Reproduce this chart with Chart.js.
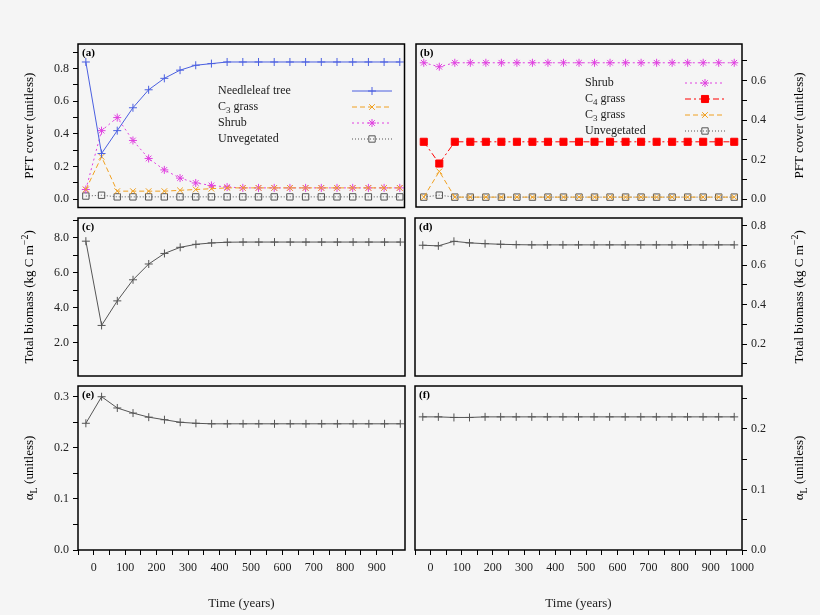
<!DOCTYPE html>
<html><head><meta charset="utf-8">
<script src="https://cdn.jsdelivr.net/npm/chart.js@4"></script>
<style>
body{margin:0;background:#f5f5f5;width:820px;height:615px;position:relative;overflow:hidden;font-family:"Liberation Serif",serif}
canvas{position:absolute}
</style></head><body>
<canvas id="ca" style="left:0;top:0" width="410" height="213"></canvas>
<canvas id="cb" style="left:410px;top:0" width="410" height="213"></canvas>
<canvas id="cc" style="left:0;top:213px" width="410" height="168"></canvas>
<canvas id="cd" style="left:410px;top:213px" width="410" height="168"></canvas>
<canvas id="ce" style="left:0;top:381px" width="410" height="234"></canvas>
<canvas id="cf" style="left:410px;top:381px" width="410" height="234"></canvas>
<script>
const years = [-25,25,75,125,175,225,275,325,375,425,475,525,575,625,675,725,775,825,875,925,975];
// panel a
const aNeedle = [0.84,0.28,0.42,0.56,0.67,0.74,0.79,0.82,0.83,0.84,0.84,0.84,0.84,0.84,0.84,0.84,0.84,0.84,0.84,0.84,0.84];
const aC3 = [0.06,0.26,0.05,0.05,0.05,0.05,0.055,0.06,0.065,0.07,0.07,0.07,0.07,0.07,0.07,0.07,0.07,0.07,0.07,0.07,0.07];
const aShrub = [0.06,0.42,0.50,0.36,0.25,0.18,0.13,0.10,0.085,0.075,0.07,0.07,0.07,0.07,0.07,0.07,0.07,0.07,0.07,0.07,0.07];
const aUnveg = [0.02,0.025,0.015,0.015,0.015,0.015,0.015,0.015,0.015,0.015,0.015,0.015,0.015,0.015,0.015,0.015,0.015,0.015,0.015,0.015,0.015];
// panel b
const bShrub = [0.69,0.67,0.69,0.69,0.69,0.69,0.69,0.69,0.69,0.69,0.69,0.69,0.69,0.69,0.69,0.69,0.69,0.69,0.69,0.69,0.69];
const bC4 = [0.29,0.18,0.29,0.29,0.29,0.29,0.29,0.29,0.29,0.29,0.29,0.29,0.29,0.29,0.29,0.29,0.29,0.29,0.29,0.29,0.29];
const bC3 = [0.01,0.14,0.01,0.01,0.01,0.01,0.01,0.01,0.01,0.01,0.01,0.01,0.01,0.01,0.01,0.01,0.01,0.01,0.01,0.01,0.01];
const bUnveg = [0.01,0.02,0.01,0.01,0.01,0.01,0.01,0.01,0.01,0.01,0.01,0.01,0.01,0.01,0.01,0.01,0.01,0.01,0.01,0.01,0.01];
// biomass
const cBiomass = [7.8,3.0,4.4,5.6,6.5,7.1,7.45,7.62,7.7,7.74,7.75,7.75,7.75,7.75,7.75,7.75,7.75,7.75,7.75,7.75,7.75];
const dBiomass = [0.70,0.697,0.72,0.712,0.708,0.705,0.703,0.702,0.702,0.702,0.702,0.702,0.702,0.702,0.702,0.702,0.702,0.702,0.702,0.702,0.702];
// albedo
const eAlpha = [0.248,0.30,0.278,0.268,0.26,0.255,0.25,0.248,0.247,0.247,0.247,0.247,0.247,0.247,0.247,0.247,0.247,0.247,0.247,0.247,0.247];
const fAlpha = [0.22,0.22,0.219,0.219,0.22,0.22,0.22,0.22,0.22,0.22,0.22,0.22,0.22,0.22,0.22,0.22,0.22,0.22,0.22,0.22,0.22];

const FONT = {family:'"Liberation Serif", serif', size:12};
Chart.defaults.font = FONT;
Chart.defaults.color = '#222';
Chart.defaults.devicePixelRatio = 1;

const pts = a => years.map((x,i)=>({x, y:a[i]}));
function ds(label, data, color, style, dash, fill, r){
  return {label, data:pts(data), borderColor:color, backgroundColor:fill||'rgba(0,0,0,0)', pointBorderColor:color,
    pointBackgroundColor:fill||'rgba(0,0,0,0)', pointStyle:style, pointRadius:r||4, borderWidth:1, pointBorderWidth:1,
    borderDash:dash||[], tension:0};
}
const frame = {id:'frame', afterDraw(ch, a, o){
  const c=ch.ctx, ar=ch.chartArea;
  c.save(); c.strokeStyle='#000'; c.lineWidth=1.5; c.strokeRect(ar.left, ar.top, ar.right-ar.left, ar.bottom-ar.top);
  c.fillStyle='#000'; c.font='bold 11px "Liberation Serif"'; c.textAlign='left'; c.textBaseline='top';
  c.fillText(o.tag, ar.left+4, ar.top+4);
  c.font='13px "Liberation Serif"'; c.textAlign='center'; c.textBaseline='middle';
  c.translate(o.tx, (ar.top+ar.bottom)/2); c.rotate(-Math.PI/2);
  if(o.sub){
    const w1=c.measureText(o.title).width, ws=c.measureText(o.sub).width;
    const w2=c.measureText(o.rest).width;
    let x=-(w1+ws*0.75+w2)/2;
    c.textAlign='left'; c.fillText(o.title,x,0); x+=w1;
    c.font='10px "Liberation Serif"'; c.fillText(o.sub,x,o.subDy||4); x+=ws*0.78;
    c.font='13px "Liberation Serif"'; c.fillText(o.rest,x,0);
  } else c.fillText(o.title,0,0);
  c.restore();
  if(o.legend){
    c.save(); c.font='12px "Liberation Serif"'; c.textBaseline='middle';
    ch.data.datasets.forEach((d,i)=>{
      const y=o.legend.y+i*16;
      c.fillStyle='#222'; c.textAlign='left';
      const lab=o.legend.labels[i];
      if(lab.sub){ c.fillText(lab.a,o.legend.tx,y); const w=c.measureText(lab.a).width;
        c.font='9px "Liberation Serif"'; c.fillText(lab.sub,o.legend.tx+w,y+4); const w2=c.measureText(lab.sub).width;
        c.font='12px "Liberation Serif"'; c.fillText(lab.b,o.legend.tx+w+w2,y);}
      else c.fillText(lab.a,o.legend.tx,y);
      c.strokeStyle=d.borderColor; c.lineWidth=1; c.setLineDash(d.borderDash);
      c.beginPath(); c.moveTo(o.legend.sx,y); c.lineTo(o.legend.sx+40,y); c.stroke(); c.setLineDash([]);
      c.fillStyle=d.pointBackgroundColor; c.strokeStyle=d.pointBorderColor;
      Chart.helpers.drawPoint(c,{pointStyle:d.pointStyle,radius:d.pointRadius,borderWidth:1},o.legend.sx+20,y);
    });
    c.restore();
  }
}};
function yScale(pos,min,max,step,labelEvery){
  return {type:'linear', position:pos, min, max,
    afterFit(s){s.width=78; s.paddingTop=0; s.paddingBottom=0;},
    afterBuildTicks(s){ const t=[]; for(let v=Math.ceil(min/step-1e-9)*step; v<=max+1e-9; v+=step) t.push({value:+v.toFixed(4)}); s.ticks=t; },
    ticks:{autoSkip:false, padding:4, callback:(v)=>{const k=Math.round(v/step); return (k%labelEvery===0)? v.toFixed(1) : '';}},
    grid:{drawOnChartArea:false, tickLength:5, color:'#000'}, border:{display:false}};
}
function xScale(show,max){
  return {type:'linear', min:-50, max, display:show,
    afterFit(s){ if(show) s.height=65; s.paddingLeft=0; s.paddingRight=0; },
    afterBuildTicks(s){ const t=[]; for(let v=-50; v<=max; v+=50) t.push({value:v}); s.ticks=t; },
    ticks:{autoSkip:false, maxRotation:0, padding:6, font:{size:12}, callback:v=>(v>=0&&v%100===0)?String(v):''},
    grid:{drawOnChartArea:false, tickLength:5, color:'#000'}, border:{display:false},
    title:{display:show, text:'Time (years)', font:{size:13}, padding:{top:8}}};
}
function make(id, datasets, y, x, pad, opt){
  new Chart(document.getElementById(id), {type:'line', data:{datasets},
    options:{responsive:false, animation:false, layout:{padding:pad},
      plugins:{legend:{display:false}, tooltip:{enabled:false}, frame:opt},
      scales:{x, y}}, plugins:[frame]});
}
const blue='#4a5fe0', orange='#f0a020', magenta='#e040e0', gray='#555', red='#ff0000';
make('ca',[ds('Needleleaf tree',aNeedle,blue,'cross'),ds('C3 grass',aC3,orange,'crossRot',[5,3]),
  ds('Shrub',aShrub,magenta,'star',[2,3]),ds('Unvegetated',aUnveg,gray,'rect',[1,2],null,4.5)],
  yScale('left',-0.05,0.95,0.1,2), xScale(false,990), {top:44,right:0,left:0,bottom:0}, {tag:'(a)',tx:30,title:'PFT cover (unitless)',
  legend:{y:91,tx:218,sx:352,labels:[{a:'Needleleaf tree'},{a:'C',sub:'3',b:' grass'},{a:'Shrub'},{a:'Unvegetated'}]}});
make('cb',[ds('Shrub',bShrub,magenta,'star',[2,3]),ds('C4 grass',bC4,red,'rect',[6,3,2,3],red,5),
  ds('C3 grass',bC3,orange,'crossRot',[5,3]),ds('Unvegetated',bUnveg,gray,'rect',[1,2],null,4.5)],
  yScale('right',-0.04,0.785,0.1,2), xScale(false,1000), {top:44,left:0,right:0,bottom:0}, {tag:'(b)',tx:390,title:'PFT cover (unitless)',
  legend:{y:83,tx:175,sx:275,labels:[{a:'Shrub'},{a:'C',sub:'4',b:' grass'},{a:'C',sub:'3',b:' grass'},{a:'Unvegetated'}]}});
make('cc',[ds('c',cBiomass,gray,'cross')], yScale('left',0.12,9.12,1,2), xScale(false,990), {right:0,left:0,top:0,bottom:0},
  {tag:'(c)',tx:30,title:'Total biomass (kg C m',sub:'−2',rest:')',subDy:-5});
make('cd',[ds('d',dBiomass,gray,'cross')], yScale('right',0.038,0.838,0.1,2), xScale(false,1000), {left:0,right:0,top:0,bottom:0},
  {tag:'(d)',tx:390,title:'Total biomass (kg C m',sub:'−2',rest:')',subDy:-5});
make('ce',[ds('e',eAlpha,gray,'cross')], yScale('left',0,0.321,0.05,2), xScale(true,990), {right:0,left:0,top:0,bottom:0},
  {tag:'(e)',tx:30,title:'α',sub:'L',rest:' (unitless)'});
make('cf',[ds('f',fAlpha,gray,'cross')], yScale('right',0,0.271,0.05,2), xScale(true,1000), {left:0,right:0,top:0,bottom:0},
  {tag:'(f)',tx:390,title:'α',sub:'L',rest:' (unitless)'});
</script></body></html>
